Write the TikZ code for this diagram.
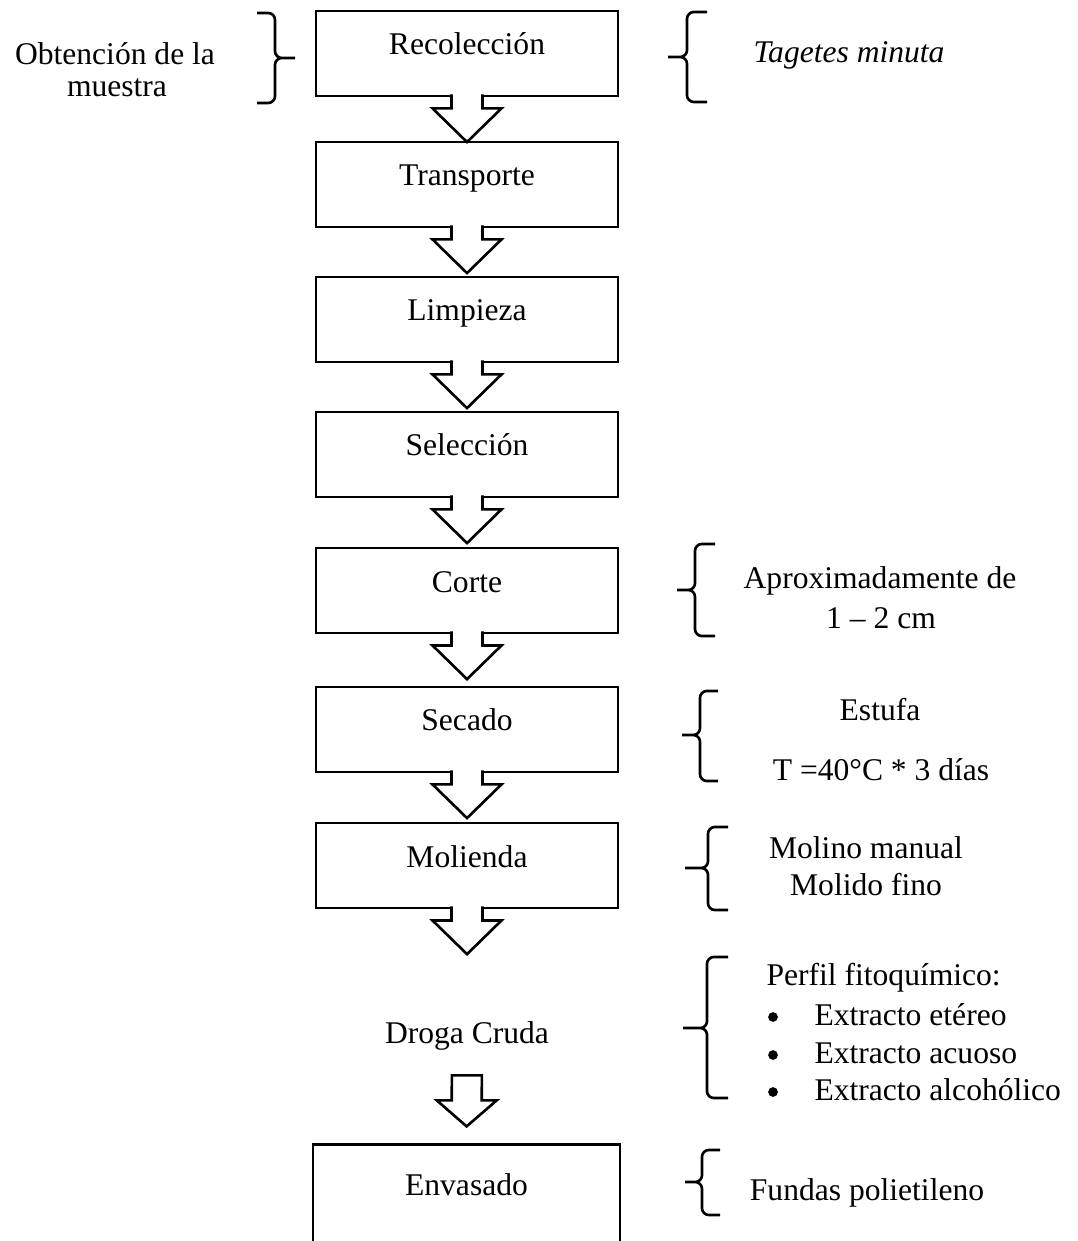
\documentclass[tikz,border=0pt]{standalone}
\usepackage{fontspec}
\setmainfont{Liberation Serif}
\usetikzlibrary{positioning, calc}

\begin{document}
\begin{tikzpicture}[
  x=0.38pt, y=-0.38pt,
  font=\fontsize{12}{14.4}\selectfont,
  paso/.style={draw, rectangle, line width=1pt, minimum width=114.8pt,
               minimum height=32.3pt, text height=8pt, text depth=6.9pt,
               inner sep=0pt},
  nota/.style={anchor=base, inner sep=0pt},
  punto/.style={circle, fill, inner sep=0pt, minimum size=3.7pt},
  llave/.style={line width=1pt, rounded corners=2.6pt},
  flecha/.style={line width=1pt, preaction={fill=white}, to path={
    ($(\tikztostart)+(-15.5,-3)$)
    -- ($(\tikztostart)!4.2pt!(\tikztotarget)+(-15.5,0)$)
    -- ($(\tikztostart)!4.2pt!(\tikztotarget)+(-34.5,0)$)
    -- ($(\tikztostart)!17pt!(\tikztotarget)$)
    -- ($(\tikztostart)!4.2pt!(\tikztotarget)+(34.5,0)$)
    -- ($(\tikztostart)!4.2pt!(\tikztotarget)+(15.5,0)$)
    -- ($(\tikztostart)+(15.5,-3)$)}},
  flechab/.style={line width=1pt, to path={
    ($(\tikztostart)!9.5pt!(\tikztotarget)+(-15,0)$)
    -- ($(\tikztostart)!19pt!(\tikztotarget)+(-15,0)$)
    -- ($(\tikztostart)!19pt!(\tikztotarget)+(-30,0)$)
    -- ($(\tikztostart)!28.9pt!(\tikztotarget)$)
    -- ($(\tikztostart)!19pt!(\tikztotarget)+(30,0)$)
    -- ($(\tikztostart)!19pt!(\tikztotarget)+(15,0)$)
    -- ($(\tikztostart)!9.5pt!(\tikztotarget)+(15,0)$) -- cycle}},
  node distance=18pt,
]
  \path[use as bounding box, clip] (0,0) rectangle (1077,1241);

  % pasos del proceso
  \node[paso] (rec) at (467,53.5) {Recolección};
  \node[paso, below=16.5pt of rec] (tra) {Transporte};
  \node[paso, below=of tra] (lim) {Limpieza};
  \node[paso, below=of lim] (sel) {Selección};
  \node[paso, below=18.4pt of sel] (cor) {Corte};
  \node[paso, below=19.5pt of cor] (sec) {Secado};
  \node[paso, below=18.4pt of sec] (mol) {Molienda};
  \node[nota] (dro) at (467,1043) {Droga Cruda};
  \node[paso, anchor=north, minimum width=116.7pt, minimum height=37.6pt]
    (env) at (466.5,1143) {Envasado};

  \draw[flecha] (rec.south) to (tra.north);
  \draw[flecha] (tra.south) to (lim.north);
  \draw[flecha] (lim.south) to (sel.north);
  \draw[flecha] (sel.south) to (cor.north);
  \draw[flecha] (cor.south) to (sec.north);
  \draw[flecha] (sec.south) to (mol.north);
  \draw[flecha] (mol.south) to (dro.north);
  \draw[flechab] (dro.south) to (env.north);

  % notas
  \node[nota] (obt1) at (115,65) {Obtención de la};
  \node[nota] (obt2) at (117,97) {muestra};
  \node[nota] (tag) at (849,63) {\itshape Tagetes minuta};
  \node[nota] (apr1) at (880,588) {Aproximadamente de};
  \node[nota] (apr2) at (881,628) {1 – 2 cm};
  \node[nota] (est1) at (880,720) {Estufa};
  \node[nota] (est2) at (881,780) {T =40°C * 3 días};
  \node[nota] (mo1) at (866,858) {Molino manual};
  \node[nota] (mo2) at (866,895) {Molido fino};
  \node[nota, anchor=base west] (per) at (766,985) {Perfil fitoquímico:};
  \node[punto] (b1) at (773,1017) {};
  \node[punto] (b2) at (773,1055) {};
  \node[punto] (b3) at (773,1092) {};
  \node[nota, anchor=base west] (ext1) at (814,1025) {Extracto etéreo};
  \node[nota, anchor=base west] (ext2) at (814,1063) {Extracto acuoso};
  \node[nota, anchor=base west] (ext3) at (814,1100) {Extracto alcohólico};
  \node[nota] (fun) at (867,1200) {Fundas polietileno};

  % llaves
  \draw[llave] (257,13) -- (275,13) -- (275,58) -- (295,58)
               (257,103) -- (275,103) -- (275,58) -- (295,58);
  \draw[llave] (707,12) -- (687,12) -- (687,57) -- (668,57)
               (707,102) -- (687,102) -- (687,57) -- (668,57);
  \draw[llave] (715,544) -- (695,544) -- (695,590) -- (677,590)
               (715,636) -- (695,636) -- (695,590) -- (677,590);
  \draw[llave] (718,691) -- (700,691) -- (700,735) -- (682,735)
               (718,781) -- (700,781) -- (700,735) -- (682,735);
  \draw[llave] (728,827) -- (708,827) -- (708,868) -- (685,868)
               (728,910) -- (708,910) -- (708,868) -- (685,868);
  \draw[llave] (728,957) -- (707,957) -- (707,1028) -- (683,1028)
               (728,1098) -- (707,1098) -- (707,1028) -- (683,1028);
  \draw[llave] (720,1150) -- (702,1150) -- (702,1182) -- (685,1182)
               (720,1215) -- (702,1215) -- (702,1182) -- (685,1182);
\end{tikzpicture}
\end{document}
